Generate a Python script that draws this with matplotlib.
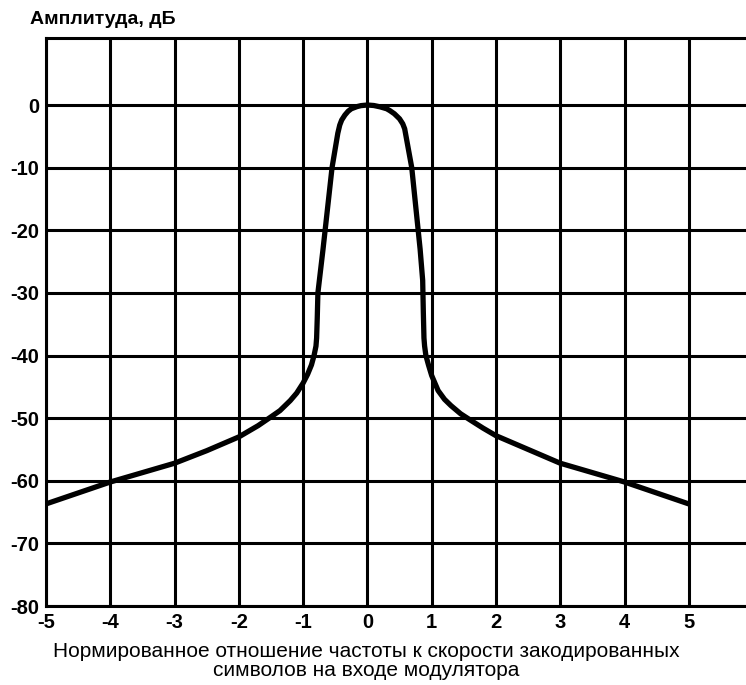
import matplotlib
matplotlib.use("Agg")
import matplotlib.pyplot as plt

## spectrum mask

freq = [-5, -4, -3, -2.5, -2, -1.7, -1.5, -1.36, -1.2, -1.1, -1.0, -0.93,
        -0.87, -0.83, -0.8, -0.79, -0.78, -0.77, -0.69, -0.55, -0.46, -0.43,
        -0.4, -0.35, -0.3, -0.25, -0.16, -0.1, 0, 0.1, 0.2, 0.3, 0.35, 0.42,
        0.5, 0.55, 0.58, 0.69, 0.82, 0.86, 0.87, 0.88, 0.89, 0.91, 0.95,
        1.0, 1.1, 1.2, 1.3, 1.45, 1.6, 1.8, 2, 3, 4, 5]
ampl = [-63.7, -60.2, -57.2, -55.2, -53, -51.2, -49.8, -48.8, -47.2, -46,
        -44.4, -43, -41.5, -40, -38.5, -37.2, -34, -30, -23, -10, -4.5, -3.2,
        -2.4, -1.6, -1.0, -0.6, -0.25, -0.1, 0, -0.08, -0.3, -0.6, -0.9,
        -1.4, -2.2, -3.0, -3.8, -10, -23, -28, -33, -37.2, -38.5, -40, -41.5,
        -43.2, -45.6, -47, -48, -49.3, -50.3, -51.6, -52.8, -57.2, -60.2, -63.7]

xticks = [-5, -4, -3, -2, -1, 0, 1, 2, 3, 4, 5]
yticks = [0, -10, -20, -30, -40, -50, -60, -70, -80]

plt.rcParams['font.family'] = ['Liberation Sans', 'DejaVu Sans']

fig = plt.figure(figsize=(7.46, 6.85), dpi=100)
ax = fig.add_axes([46/746, 1-606/685, 1-46/746, (606-38)/685])

for v in xticks:
    ax.axvline(v, color='black', lw=2.2, zorder=1)
for v in yticks:
    ax.axhline(v, color='black', lw=2.2, zorder=1)

ax.plot(freq, ampl, color='black', lw=3.8, solid_joinstyle='round',
        solid_capstyle='butt', zorder=3)

ax.set_xlim(-5, 5.89)
ax.set_ylim(-80, 10.7)
ax.set_xticks(xticks)
ax.set_yticks(yticks)
ax.set_xticklabels([str(v) for v in xticks], fontsize=14.5, fontweight='bold')
ax.set_yticklabels([str(v) for v in yticks], fontsize=14.5, fontweight='bold')
ax.tick_params(length=0, pad=5)
ax.tick_params(axis='x', pad=5)

ax.spines['right'].set_visible(False)
for s in ['left', 'top', 'bottom']:
    ax.spines[s].set_linewidth(2.2)

fig.text(30/746, 1-20/685, "Амплитуда, дБ", fontsize=14, fontweight='bold',
         va='center', ha='left')
fig.text(366/746, 1-661/685,
         "Нормированное отношение частоты к скорости закодированных\nсимволов на входе модулятора",
         fontsize=15, ha='center', va='center', linespacing=1.0)

fig.savefig("out.png", dpi=100)
